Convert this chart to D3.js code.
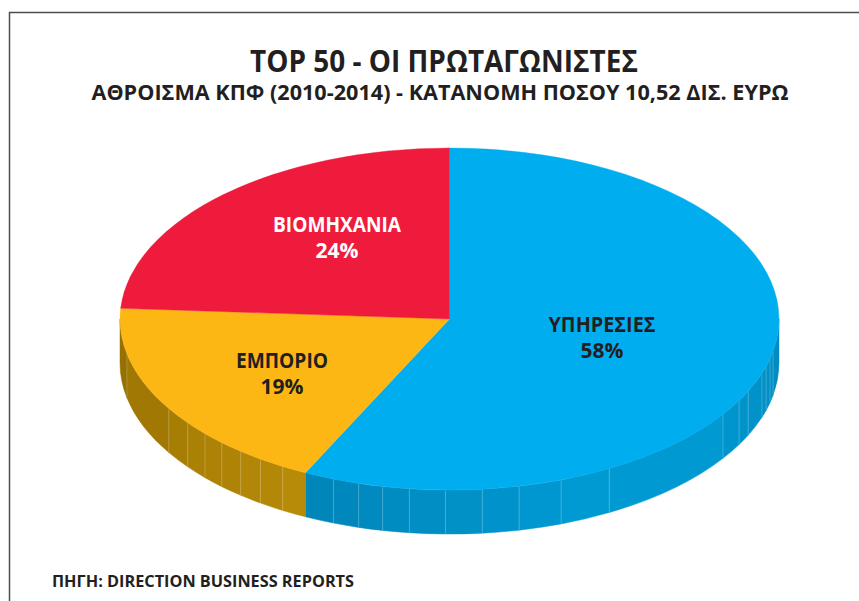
<!DOCTYPE html>
<html>
<head>
<meta charset="utf-8">
<style>
  body { margin: 0; background: #fff; }
  text { font-family: "Open Sans", sans-serif; font-weight: 700; }
</style>
<script src="https://cdn.jsdelivr.net/npm/d3@7"></script>
</head>
<body>
<div id="chart"></div>
<script>
var width = 859;
var height = 601;

// slices, clockwise from 12 o'clock. shares are what the picture shows,
// labels are the printed ones (they add up to 101)
var categories = ['ΥΠΗΡΕΣΙΕΣ', 'ΕΜΠΟΡΙΟ', 'ΒΙΟΜΗΧΑΝΙΑ'];
var shares = [57.2, 18.8, 24.0];
var shareLabels = ['58%', '19%', '24%'];
var topColors = ['#00aeef', '#fdb714', '#ef1b3c'];
var textColors = ['#231f20', '#231f20', '#ffffff'];

// the thin seams on the rim, in degrees clockwise from 12 o'clock
var seamAngles = [100.9, 103.4, 106.1, 108.5, 115, 118.5, 123.9, 151, 160.2, 167.8, 174.3,
  180.7, 187, 191.7, 196, 200.6, 210.4, 215, 219.3, 223.7, 227.9, 232.6, 238.4, 258.2];

var title = 'TOP 50 - ΟΙ ΠΡΩΤΑΓΩΝΙΣΤΕΣ';
var subtitle = 'ΑΘΡΟΙΣΜΑ ΚΠΦ (2010-2014) - ΚΑΤΑΝΟΜΗ ΠΟΣΟΥ 10,52 ΔΙΣ. ΕΥΡΩ';
var source = 'ΠΗΓΗ: DIRECTION BUSINESS REPORTS';

var cx = 449.5, cy = 319, rx = 329.5, ry = 171, depth = 44;

var svg = d3.select('#chart').append('svg')
  .attr('width', width)
  .attr('height', height)
  .style('display', 'block');

// frame, open at the right and bottom
svg.append('path')
  .attr('d', 'M9.5,' + height + 'V12.5H' + width)
  .attr('fill', 'none')
  .attr('stroke', '#4d4d4f')
  .attr('stroke-width', 1.5);

var pie = d3.pie().sort(null).value(function(d){ return d; });
var arcs = pie(shares);

var arc = d3.arc().innerRadius(0).outerRadius(rx);

// point on the top ellipse for an angle in radians
function px(a){ return cx + rx * Math.sin(a); }
function py(a){ return cy - ry * Math.cos(a); }

// rim colours run from dark at the outer ends to lighter towards the front
var rimScales = [
  d3.scaleLinear().domain([90, 105, 150, 206]).range(['#0089bf', '#0090c6', '#009cd6', '#0085b8']),
  d3.scaleLinear().domain([206, 270]).range(['#b88b08', '#936e00']),
  null
];

function rimPath(a0, a1){
  return 'M' + px(a0) + ',' + py(a0)
    + 'A' + rx + ',' + ry + ' 0 0 1 ' + px(a1) + ',' + py(a1)
    + 'L' + px(a1) + ',' + (py(a1) + depth)
    + 'A' + rx + ',' + ry + ' 0 0 0 ' + px(a0) + ',' + (py(a0) + depth)
    + 'Z';
}

// cut every visible part of the rim at the seams
var rad = Math.PI / 180;
var facets = [];
arcs.forEach(function(d, i){
  if(!rimScales[i]) return;
  var from = Math.max(d.startAngle / rad, 90);
  var to = Math.min(d.endAngle / rad, 270);
  var cuts = seamAngles.filter(function(s){ return s > from && s < to; });
  var stops = [from].concat(cuts, [to]);
  d3.pairs(stops).forEach(function(p){
    facets.push({a0: p[0], a1: p[1], color: rimScales[i]((p[0] + p[1]) / 2), seam: p[0] != from});
  });
});

svg.selectAll('path.facet').data(facets).enter().append('path')
  .attr('class', 'facet')
  .attr('d', function(d){ return rimPath(d.a0 * rad, d.a1 * rad); })
  .attr('fill', function(d){ return d.color; })
  .attr('stroke', function(d){ return d.color; })
  .attr('stroke-width', 0.5);

svg.selectAll('line.seam').data(facets.filter(function(d){ return d.seam; })).enter().append('line')
  .attr('class', 'seam')
  .attr('x1', function(d){ return px(d.a0 * rad); })
  .attr('x2', function(d){ return px(d.a0 * rad); })
  .attr('y1', function(d){ return py(d.a0 * rad); })
  .attr('y2', function(d){ return py(d.a0 * rad) + depth; })
  .attr('stroke', '#fff')
  .attr('stroke-opacity', 0.22)
  .attr('stroke-width', 1);

// top of the pie is a normal arc squashed into an ellipse
var pieTop = svg.append('g')
  .attr('transform', 'translate(' + cx + ',' + cy + ') scale(1,' + (ry / rx) + ')');

pieTop.selectAll('path').data(arcs).enter().append('path')
  .attr('d', arc)
  .attr('fill', function(d, i){ return topColors[i]; })
  .attr('stroke', function(d, i){ return topColors[i]; })
  .attr('stroke-width', 0.5);

// slice labels
var labelSpots = [[602, 332], [282, 368], [337, 232]];
var labelWidths = [107, 92, 128];

categories.forEach(function(c, i){
  svg.append('text')
    .attr('x', labelSpots[i][0])
    .attr('y', labelSpots[i][1])
    .attr('text-anchor', 'middle')
    .attr('font-size', 21)
    .attr('textLength', labelWidths[i])
    .attr('lengthAdjust', 'spacingAndGlyphs')
    .attr('fill', textColors[i])
    .text(c);
  svg.append('text')
    .attr('x', labelSpots[i][0])
    .attr('y', labelSpots[i][1] + 26)
    .attr('text-anchor', 'middle')
    .attr('font-size', 21)
    .attr('textLength', 43)
    .attr('lengthAdjust', 'spacingAndGlyphs')
    .attr('fill', textColors[i])
    .text(shareLabels[i]);
});

svg.append('text')
  .attr('x', 444).attr('y', 72)
  .attr('text-anchor', 'middle')
  .attr('font-size', 31)
  .attr('textLength', 388)
  .attr('lengthAdjust', 'spacingAndGlyphs')
  .attr('fill', '#231f20')
  .text(title);

svg.append('text')
  .attr('x', 440).attr('y', 100)
  .attr('text-anchor', 'middle')
  .attr('font-size', 21.5)
  .attr('textLength', 697)
  .attr('lengthAdjust', 'spacingAndGlyphs')
  .attr('fill', '#231f20')
  .text(subtitle);

svg.append('text')
  .attr('x', 52).attr('y', 587)
  .attr('font-size', 16)
  .attr('textLength', 302)
  .attr('lengthAdjust', 'spacingAndGlyphs')
  .attr('fill', '#231f20')
  .text(source);
</script>
</body>
</html>
